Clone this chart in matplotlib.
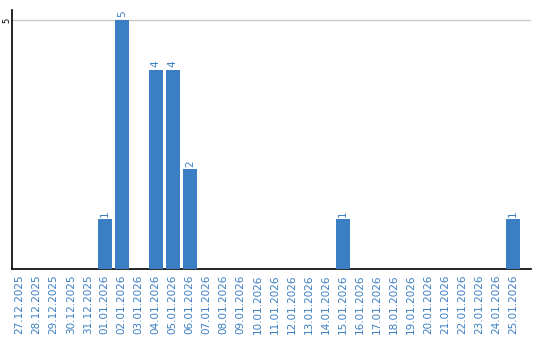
import matplotlib
matplotlib.use("Agg")
import matplotlib.pyplot as plt

dates = ['27.12.2025', '28.12.2025', '29.12.2025', '30.12.2025', '31.12.2025',
         '01.01.2026', '02.01.2026', '03.01.2026', '04.01.2026', '05.01.2026',
         '06.01.2026', '07.01.2026', '08.01.2026', '09.01.2026', '10.01.2026',
         '11.01.2026', '12.01.2026', '13.01.2026', '14.01.2026', '15.01.2026',
         '16.01.2026', '17.01.2026', '18.01.2026', '19.01.2026', '20.01.2026',
         '21.01.2026', '22.01.2026', '23.01.2026', '24.01.2026', '25.01.2026']
counts = [0, 0, 0, 0, 0,
          1, 5, 0, 4, 4,
          2, 0, 0, 0, 0,
          0, 0, 0, 0, 1,
          0, 0, 0, 0, 0,
          0, 0, 0, 0, 1]

blue = '#3c7ec3'

fig = plt.figure(figsize=(5.4, 3.4), dpi=100)
ax = fig.add_axes([12 / 540, 71 / 340, 519 / 540, 259 / 340])

x = list(range(len(dates)))
ax.bar(x, counts, width=0.82, color=blue, zorder=3)
for xi, v in zip(x, counts):
    if v > 0:
        ax.text(xi, v + 0.05, str(v), rotation=90, ha='center', va='bottom',
                color=blue, fontsize=7.5)

ax.set_xlim(-0.45, 30.05)
ax.set_ylim(0, 5.2)
ax.set_yticks([5])
ax.set_yticklabels(['5'], rotation=90, va='center', fontsize=6)
ax.yaxis.grid(True, color='#c8c8c8', linewidth=1, zorder=0)
ax.tick_params(axis='y', length=0, pad=0.5)

ax.set_xticks(x)
ax.set_xticklabels(dates, rotation=90, color=blue, fontsize=7.5)
ax.tick_params(axis='x', length=0, pad=4)

for side in ['top', 'right']:
    ax.spines[side].set_visible(False)
for side in ['left', 'bottom']:
    ax.spines[side].set_color('black')
    ax.spines[side].set_linewidth(1.2)

fig.savefig('out.png', dpi=100)
